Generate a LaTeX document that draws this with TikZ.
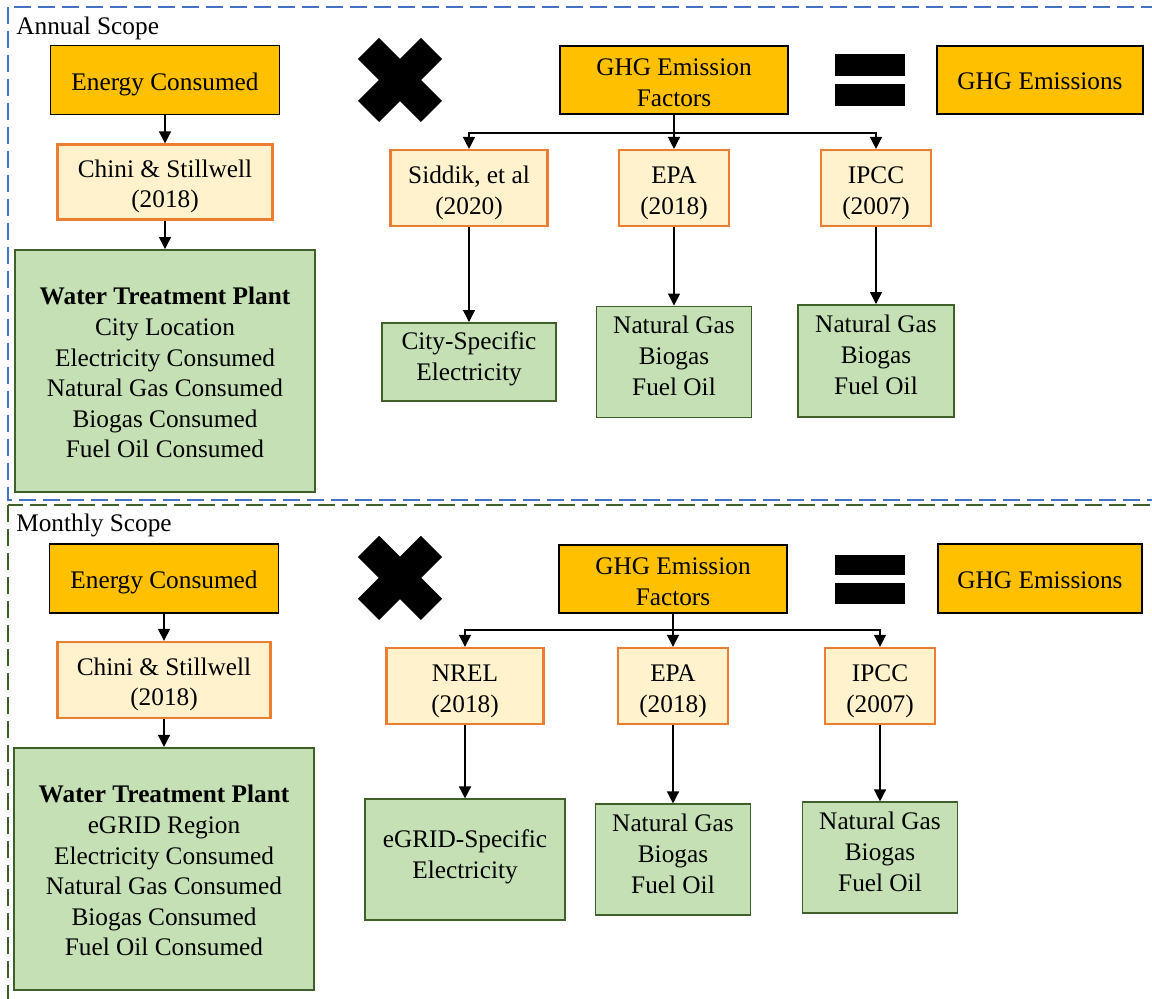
\documentclass[tikz,border=0pt]{standalone}
\usepackage{fontspec}
\setmainfont{Liberation Serif}
\usetikzlibrary{arrows.meta,calc}

\definecolor{gold}{HTML}{FFC000}
\definecolor{paleyellow}{HTML}{FFF2CC}
\definecolor{orangeline}{HTML}{ED7D31}
\definecolor{palegreen}{HTML}{C5E0B4}
\definecolor{darkgreen}{HTML}{3F6028}
\definecolor{frameblue}{HTML}{4472C4}

\tikzset{
  textlift/.store in=\boxlift, textlift=0pt,
  wh/.style 2 args={minimum width=#1*0.02cm, minimum height=#2*0.02cm},
  textdown/.style={execute at begin node={\rule{0pt}{\boxlift}}},
  textup/.style={execute at end node={\rule[-7pt]{0pt}{7pt}}},
  energybox/.style={draw=black, fill=gold, line width=1.1pt, inner sep=0pt, align=center, textdown, textlift=14.5pt},
  sourcebox/.style={draw=orangeline, fill=paleyellow, line width=1.2pt, inner sep=0pt, align=center, textdown, textlift=33.5pt},
  resultbox/.style={draw=darkgreen, fill=palegreen, line width=1.1pt, inner sep=0pt, align=center},
  factorbox/.style={resultbox, textup},
  plantbox/.style={resultbox, textdown, textlift=99pt, font=\fontsize{14.4pt}{17.4pt}\selectfont},
  flow/.style={-{Triangle[width=6.8pt,length=6.8pt]}, line width=0.8pt},
  scopeframe/.style={line width=1.1pt, dash pattern=on 0.34cm off 0.14cm},
}

\begin{document}
\begin{tikzpicture}[x=0.02cm, y=-0.02cm, font=\fontsize{14.4pt}{17.5pt}\selectfont]
      \useasboundingbox (0,0) rectangle (1152,999);
      % annual scope
      \begin{scope}
        \draw[scopeframe, draw=frameblue] (8,7) rectangle (1170,500);
        \node[anchor=west, inner sep=0pt] (a-title) at (16,28) {Annual Scope};
        \node[energybox, wh={229}{69}] (a-energy) at (165,80) {Energy Consumed};
        \node[sourcebox, wh={215}{75}, textlift=32.5pt] (a-chini) at (165,182) {Chini \& Stillwell\\(2018)};
        \node[plantbox, wh={300}{242}] (a-plant) at (165,371)
          {\textbf{Water Treatment Plant}\\City Location\\Electricity Consumed\\Natural Gas Consumed\\Biogas Consumed\\Fuel Oil Consumed};
        \draw[line width=0.6cm] (368.5,48.5) -- (431.5,111.5);
        \draw[line width=0.6cm] (431.5,48.5) -- (368.5,111.5);
        \node[energybox, wh={228}{68}, textlift=30pt] (a-factors) at (674,80) {GHG Emission\\Factors};
        \fill (835,54) rectangle (905,76);
        \fill (835,84) rectangle (905,106);
        \node[energybox, wh={206}{68}, textlift=11.4pt] (a-emissions) at (1040,80) {GHG Emissions};
        \node[sourcebox, wh={157}{76}] (a-siddik) at (469,188) {Siddik, et al\\(2020)};
        \node[sourcebox, wh={110}{76}] (a-epa) at (674,188) {EPA\\(2018)};
        \node[sourcebox, wh={110}{76}] (a-ipcc) at (876,188) {IPCC\\(2007)};
        \node[factorbox, wh={174}{78}] (a-city) at (469,362) {City-Specific\\Electricity};
        \node[factorbox, wh={155}{111}] (a-epagas) at (674,362) {Natural Gas\\Biogas\\Fuel Oil};
        \node[factorbox, wh={156}{112}] (a-ipccgas) at (876,361) {Natural Gas\\Biogas\\Fuel Oil};
        \coordinate (a-fork) at (674,133);
        \draw[flow] (a-energy) -- (a-chini);
        \draw[flow] (a-chini) -- (a-plant);
        \draw[flow] (a-factors) -- (a-epa);
        \draw[flow] (a-fork) -| (a-siddik);
        \draw[flow] (a-fork) -| (a-ipcc);
        \draw[flow] (a-siddik) -- (a-city);
        \draw[flow] (a-epa) -- (a-epagas);
        \draw[flow] (a-ipcc) -- (a-ipccgas);
      \end{scope}
      % monthly scope
      \begin{scope}[yshift=-9.96cm]
        \draw[scopeframe, draw=darkgreen] (8,7) rectangle (1170,520);
        \node[anchor=west, inner sep=0pt] (m-title) at (16,28) {Monthly Scope};
        \node[energybox, wh={229}{69}] (m-energy) at (164,81) {Energy Consumed};
        \node[sourcebox, wh={213}{76}, textlift=32.5pt] (m-chini) at (164,182) {Chini \& Stillwell\\(2018)};
        \node[plantbox, wh={300}{242}] (m-plant) at (164,371)
          {\textbf{Water Treatment Plant}\\eGRID Region\\Electricity Consumed\\Natural Gas Consumed\\Biogas Consumed\\Fuel Oil Consumed};
        \draw[line width=0.6cm] (368.5,48.5) -- (431.5,111.5);
        \draw[line width=0.6cm] (431.5,48.5) -- (368.5,111.5);
        \node[energybox, wh={228}{68}, textlift=30pt] (m-factors) at (673,81) {GHG Emission\\Factors};
        \fill (835,57) rectangle (905,77);
        \fill (835,85) rectangle (905,106);
        \node[energybox, wh={204}{69}, textlift=11.4pt] (m-emissions) at (1040,81) {GHG Emissions};
        \node[sourcebox, wh={157}{76}] (m-nrel) at (465,188) {NREL\\(2018)};
        \node[sourcebox, wh={110}{76}] (m-epa) at (673,188) {EPA\\(2018)};
        \node[sourcebox, wh={110}{76}] (m-ipcc) at (880,188) {IPCC\\(2007)};
        \node[factorbox, wh={200}{121}] (m-egrid) at (465,362) {eGRID-Specific\\Electricity};
        \node[factorbox, wh={155}{111}] (m-epagas) at (673,362) {Natural Gas\\Biogas\\Fuel Oil};
        \node[factorbox, wh={155}{111}] (m-ipccgas) at (880,360) {Natural Gas\\Biogas\\Fuel Oil};
        \coordinate (m-fork) at (673,132);
        \draw[flow] (m-energy) -- (m-chini);
        \draw[flow] (m-chini) -- (m-plant);
        \draw[flow] (m-factors) -- (m-epa);
        \draw[flow] (m-fork) -| (m-nrel);
        \draw[flow] (m-fork) -| (m-ipcc);
        \draw[flow] (m-nrel) -- (m-egrid);
        \draw[flow] (m-epa) -- (m-epagas);
        \draw[flow] (m-ipcc) -- (m-ipccgas);
      \end{scope}
    \end{tikzpicture}
\end{document}
